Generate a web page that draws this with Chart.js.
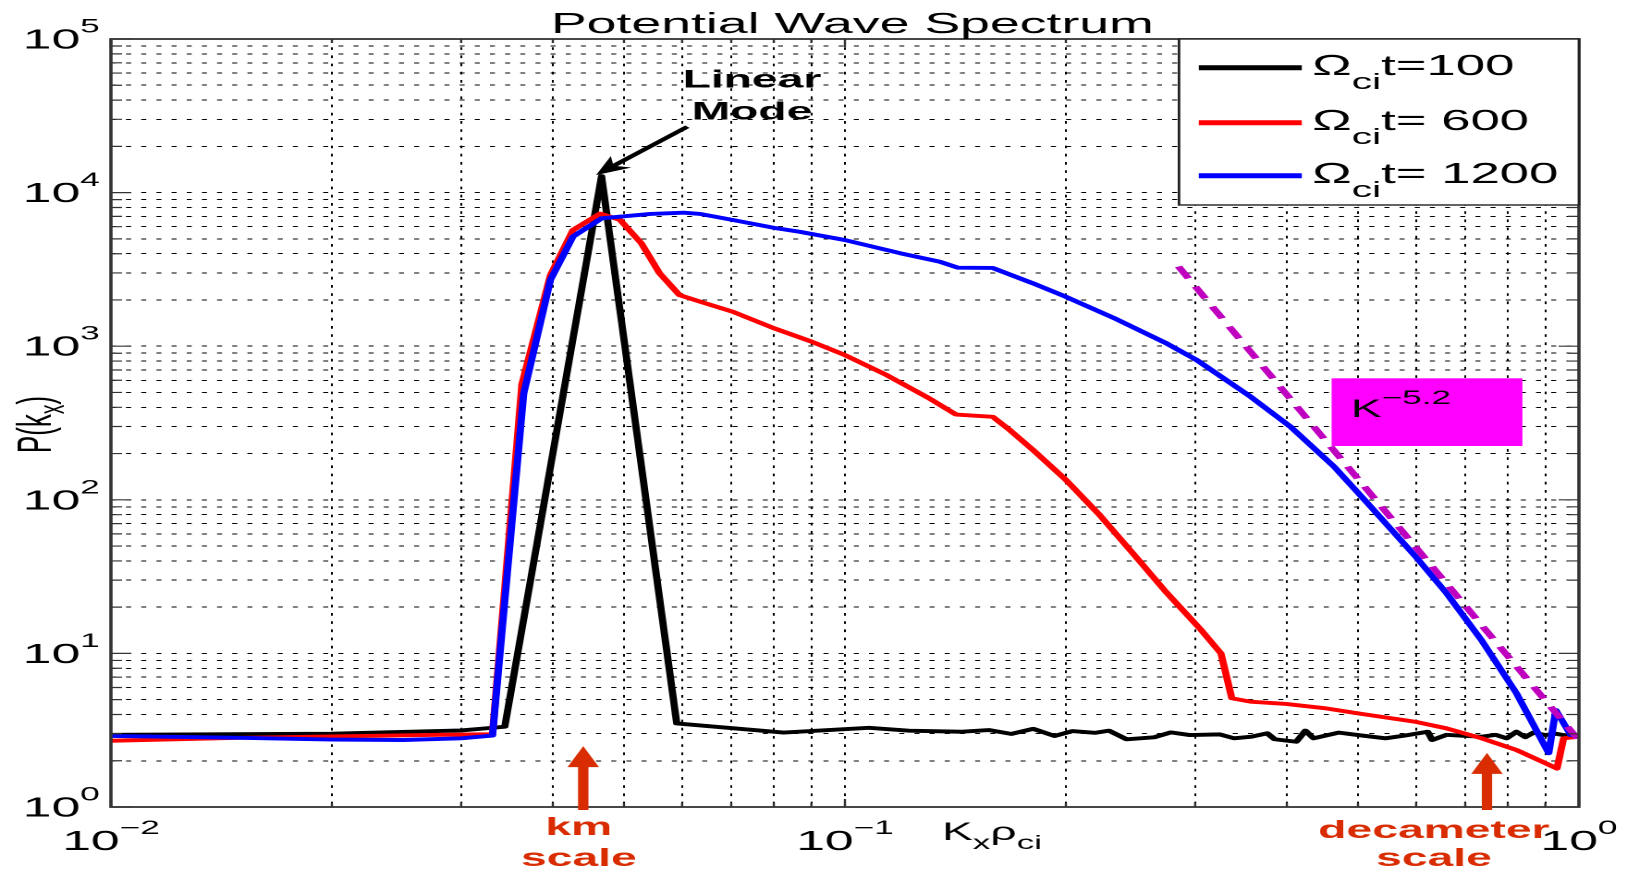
<!DOCTYPE html>
<html>
<head>
<meta charset="utf-8">
<script src="https://cdn.jsdelivr.net/npm/chart.js@4.4.1/dist/chart.umd.min.js"></script>
<style>
  html, body { margin: 0; padding: 0; background: #fff; overflow: hidden; width: 1627px; height: 871px; }
  #wrap { position: absolute; left: 0; top: 0; width: 880px; height: 871px; transform-origin: 0 0; transform: scaleX(1.848864); }
  canvas { display: block; }
</style>
</head>
<body>
<div id="wrap"><canvas id="c" width="880" height="871"></canvas></div>
<script>
const FONT = "'Liberation Sans', Arial, Helvetica, sans-serif";

// ---- data (K_x rho_ci , P(k_x)) ----
const kBlack = [0.010, 0.020, 0.030, 0.0344, 0.0466, 0.0590, 0.0825, 0.0950, 0.1078, 0.1222, 0.1444, 0.157, 0.1685, 0.1805, 0.193, 0.204, 0.219, 0.229, 0.2419, 0.2636, 0.278, 0.295, 0.324, 0.339, 0.358, 0.376, 0.385, 0.412, 0.424, 0.435, 0.471, 0.500, 0.545, 0.580, 0.622, 0.631, 0.660, 0.700, 0.737, 0.770, 0.797, 0.822, 0.845, 0.867, 0.900, 0.930, 0.952, 1.0];
const pBlack = [2.95, 3.00, 3.15, 3.33, 12800, 3.50, 3.05, 3.17, 3.28, 3.14, 3.09, 3.17, 2.99, 3.23, 2.90, 3.12, 3.04, 3.14, 2.76, 2.84, 3.06, 2.94, 2.97, 2.80, 2.87, 3.02, 2.76, 2.66, 3.14, 2.80, 3.05, 2.94, 2.80, 2.92, 3.09, 2.73, 2.95, 2.90, 2.87, 2.95, 2.80, 3.09, 2.85, 3.05, 2.94, 3.00, 2.94, 2.87];

const kRed = [0.010, 0.015, 0.020, 0.028, 0.0331, 0.0363, 0.0397, 0.0426, 0.0464, 0.0494, 0.0528, 0.0559, 0.0595, 0.0635, 0.0703, 0.0800, 0.0900, 0.0999, 0.1135, 0.130, 0.1417, 0.159, 0.1672, 0.1802, 0.1999, 0.2221, 0.2466, 0.274, 0.3045, 0.3253, 0.3366, 0.357, 0.399, 0.450, 0.500, 0.598, 0.660, 0.737, 0.797, 0.822, 0.900, 0.9335, 0.953, 1.0];
const pRed = [2.70, 2.82, 2.88, 2.95, 2.98, 565, 2900, 5700, 7300, 6635, 4675, 2985, 2154, 1950, 1678, 1310, 1072, 877, 655, 460, 359, 347, 288, 212, 135, 80, 45, 25, 14.5, 10.0, 5.1, 4.85, 4.69, 4.40, 4.07, 3.59, 3.25, 2.80, 2.47, 2.35, 1.93, 1.78, 2.80, 2.87];

const kBlue = [0.010, 0.015, 0.020, 0.025, 0.030, 0.0331, 0.0365, 0.0397, 0.0426, 0.0466, 0.0543, 0.0603, 0.0635, 0.0703, 0.0807, 0.0867, 0.0999, 0.119, 0.1346, 0.1425, 0.159, 0.1802, 0.1999, 0.2343, 0.274, 0.3014, 0.357, 0.4046, 0.464, 0.5153, 0.5983, 0.6603, 0.7365, 0.822, 0.9095, 0.930, 0.9745, 1.0];
const pBlue = [2.90, 2.82, 2.75, 2.73, 2.80, 2.92, 490, 2700, 5165, 6800, 7260, 7400, 7260, 6635, 5857, 5560, 4915, 4027, 3548, 3245, 3230, 2570, 2100, 1500, 1045, 813, 469, 299, 164, 95, 43, 24.6, 12.2, 5.5, 2.24, 4.28, 2.94, 2.90];

const kFit = [0.2847, 1.0];
const pFit = [3300, 2.72];

const seriesNames = ['t=100', 't= 600', 't= 1200'];
const seriesColors = ['#000000', '#ff0000', '#0000ff'];
const fitColor = '#bf00bf';

// ---- ticks ----
const xMajorTicks = [0.01, 0.1, 1];
const xTickExponents = ['\u22122', '\u22121', '0'];
const yMajorTicks = [1, 10, 100, 1000, 10000, 100000];
const yTickExponents = ['0', '1', '2', '3', '4', '5'];
const minorSteps = [2, 3, 4, 5, 6, 7, 8, 9];

// ---- annotation anchors (data coordinates) ----
const annot = {
  linearK: 0.0747, linearP: [48480, 30000],
  arrowFrom: [0.061, 26850], arrowTo: [0.0458, 13000],
  kmArrowK: 0.0440, kmTipP: 2.49, kmTextK: 0.0434,
  decaArrowK: 0.7494, decaTipP: 2.25, decaTextK: 0.6345,
  boxK: [0.4603, 0.8375], boxP: [224, 618], boxTextK: 0.489, boxTextP: 347,
  xTitleK: 0.1586
};
const RED = '#d92c00';

function gridTicks(majors) {
  const out = [];
  majors.forEach((m, i) => {
    out.push({ value: m, major: true });
    if (i < majors.length - 1) minorSteps.forEach(s => out.push({ value: +(m * s).toPrecision(6), major: false }));
  });
  return out;
}

function drawRuns(ctx, runs, x, baseline) {
  let cx = x;
  runs.forEach(r => {
    ctx.font = (r.bold ? 'bold ' : '') + r.size + 'px ' + FONT;
    ctx.fillText(r.t, cx, baseline + (r.dy || 0));
    cx += ctx.measureText(r.t).width;
  });
  return cx;
}
function runsWidth(ctx, runs) {
  let w = 0;
  runs.forEach(r => { ctx.font = (r.bold ? 'bold ' : '') + r.size + 'px ' + FONT; w += ctx.measureText(r.t).width; });
  return w;
}
function drawPow(ctx, xAnchor, baseline, exp, align) {
  const runs = [{ t: '10', size: 28 }, { t: exp, size: 19, dy: -16 }];
  const w = runsWidth(ctx, runs);
  const x0 = align === 'right' ? xAnchor - w : xAnchor - w / 2;
  drawRuns(ctx, runs, x0, baseline);
}
function upArrow(ctx, x, yTip, yBase) {
  const headH = 21, headW = 17, shaftW = 5.6;
  ctx.fillStyle = RED;
  ctx.fillRect(x - shaftW / 2, yTip + headH - 1, shaftW, yBase - (yTip + headH - 1));
  ctx.beginPath();
  ctx.moveTo(x, yTip);
  ctx.lineTo(x + headW / 2, yTip + headH);
  ctx.lineTo(x - headW / 2, yTip + headH);
  ctx.closePath();
  ctx.fill();
}

const decor = {
  id: 'decor',
  afterDraw(chart) {
    const { ctx, chartArea: a, scales: { x, y } } = chart;
    ctx.save();
    ctx.textBaseline = 'alphabetic';
    ctx.textAlign = 'left';

    // magenta K^-5.2 box
    const bx0 = x.getPixelForValue(annot.boxK[0]), bx1 = x.getPixelForValue(annot.boxK[1]);
    const by0 = y.getPixelForValue(annot.boxP[1]), by1 = y.getPixelForValue(annot.boxP[0]);
    ctx.fillStyle = '#ff00ff';
    ctx.fillRect(bx0, by0, bx1 - bx0, by1 - by0);
    ctx.fillStyle = '#000';
    drawRuns(ctx, [{ t: 'K', size: 25 }, { t: '\u22125.2', size: 19, dy: -13 }],
      x.getPixelForValue(annot.boxTextK), y.getPixelForValue(annot.boxTextP));

    // axes box
    ctx.strokeStyle = '#333';
    ctx.lineWidth = 1.8;
    ctx.strokeRect(a.left, a.top, a.right - a.left, a.bottom - a.top);

    // inward tick marks
    ctx.lineWidth = 1.2;
    y.ticks.forEach(t => {
      const py = y.getPixelForValue(t.value);
      const len = t.major ? 11 : 6;
      ctx.beginPath();
      ctx.moveTo(a.left, py); ctx.lineTo(a.left + len, py);
      ctx.moveTo(a.right, py); ctx.lineTo(a.right - len, py);
      ctx.stroke();
    });
    x.ticks.forEach(t => {
      const px = x.getPixelForValue(t.value);
      const len = t.major ? 8 : 4;
      ctx.beginPath();
      ctx.moveTo(px, a.bottom); ctx.lineTo(px, a.bottom - len);
      ctx.moveTo(px, a.top); ctx.lineTo(px, a.top + len);
      ctx.stroke();
    });

    // tick labels
    ctx.fillStyle = '#000';
    yMajorTicks.forEach((v, i) => drawPow(ctx, a.left - 6, y.getPixelForValue(v) + 9.5, yTickExponents[i], 'right'));
    xMajorTicks.forEach((v, i) => drawPow(ctx, x.getPixelForValue(v), a.bottom + 43, xTickExponents[i], 'center'));

    // title
    ctx.font = '29px ' + FONT;
    ctx.textAlign = 'center';
    ctx.fillText('Potential Wave Spectrum', (a.left + a.right) / 2 + 4, 33);
    ctx.textAlign = 'left';

    // x title
    const xr = [{ t: 'K', size: 25 }, { t: 'x', size: 19, dy: 9 }, { t: '\u03C1', size: 25 }, { t: 'ci', size: 19, dy: 9 }];
    drawRuns(ctx, xr, x.getPixelForValue(annot.xTitleK) - runsWidth(ctx, xr) / 2, a.bottom + 33);

    // y title (rotated)
    const yr = [{ t: 'P(k', size: 26 }, { t: 'x', size: 19, dy: 7 }, { t: ')', size: 26 }];
    ctx.save();
    ctx.translate(27.5, (a.top + a.bottom) / 2 + 1.5);
    ctx.rotate(-Math.PI / 2);
    drawRuns(ctx, yr, -runsWidth(ctx, yr) / 2, 0);
    ctx.restore();

    // Linear Mode label + arrow
    ctx.fillStyle = '#000';
    ctx.textAlign = 'center';
    ctx.font = 'bold 25px ' + FONT;
    const lx = x.getPixelForValue(annot.linearK);
    ctx.fillText('Linear', lx, y.getPixelForValue(annot.linearP[0]));
    ctx.fillText('Mode', lx, y.getPixelForValue(annot.linearP[1]));
    const ax1 = x.getPixelForValue(annot.arrowFrom[0]), ay1 = y.getPixelForValue(annot.arrowFrom[1]);
    const ax2 = x.getPixelForValue(annot.arrowTo[0]), ay2 = y.getPixelForValue(annot.arrowTo[1]);
    const ang = Math.atan2(ay2 - ay1, ax2 - ax1);
    const hl = 19, hw = 16;
    const hbx = ax2 - hl * Math.cos(ang), hby = ay2 - hl * Math.sin(ang);
    ctx.strokeStyle = '#000'; ctx.lineWidth = 3.4;
    ctx.beginPath(); ctx.moveTo(ax1, ay1); ctx.lineTo(ax2 - hl * 0.6 * Math.cos(ang), ay2 - hl * 0.6 * Math.sin(ang)); ctx.stroke();
    ctx.beginPath();
    ctx.moveTo(ax2, ay2);
    ctx.lineTo(hbx + hw / 2 * Math.sin(ang), hby - hw / 2 * Math.cos(ang));
    ctx.lineTo(ax2 - hl * 0.7 * Math.cos(ang), ay2 - hl * 0.7 * Math.sin(ang));
    ctx.lineTo(hbx - hw / 2 * Math.sin(ang), hby + hw / 2 * Math.cos(ang));
    ctx.closePath(); ctx.fill();

    // km / decameter scale arrows and labels
    upArrow(ctx, x.getPixelForValue(annot.kmArrowK), y.getPixelForValue(annot.kmTipP), a.bottom + 3);
    upArrow(ctx, x.getPixelForValue(annot.decaArrowK), y.getPixelForValue(annot.decaTipP), a.bottom + 3);
    ctx.fillStyle = RED;
    ctx.font = 'bold 25px ' + FONT;
    const kmx = x.getPixelForValue(annot.kmTextK), dx = x.getPixelForValue(annot.decaTextK);
    ctx.fillText('km', kmx, a.bottom + 28);
    ctx.fillText('scale', kmx, a.bottom + 59);
    ctx.fillText('decameter', dx, a.bottom + 31);
    ctx.fillText('scale', dx, a.bottom + 59);
    ctx.textAlign = 'left';

    // legend
    const lgL = a.right - 216.3, lgT = a.top, lgB = a.top + 166;
    ctx.fillStyle = '#fff';
    ctx.fillRect(lgL, lgT, a.right - lgL, lgB - lgT);
    ctx.strokeStyle = '#222'; ctx.lineWidth = 1.4;
    ctx.strokeRect(lgL, lgT, a.right - lgL, lgB - lgT);
    const rows = [28.7, 83.7, 136.7];
    seriesNames.forEach((name, i) => {
      const ry = a.top + rows[i];
      ctx.strokeStyle = seriesColors[i]; ctx.lineWidth = 5;
      ctx.beginPath(); ctx.moveTo(a.right - 205.6, ry); ctx.lineTo(a.right - 149.9, ry); ctx.stroke();
      ctx.fillStyle = '#000';
      drawRuns(ctx, [{ t: '\u03A9', size: 28.5 }, { t: 'ci', size: 22, dy: 14 }, { t: name, size: 28.5 }], a.right - 144.2, ry + 7.5);
    });
    ctx.restore();
  }
};

const pts = (ks, ps) => ks.map((k, i) => ({ x: k, y: ps[i] }));
const lineDs = (label, ks, ps, color, order) => ({
  label, data: pts(ks, ps), borderColor: color, backgroundColor: color,
  borderWidth: 3.9, pointRadius: 0, showLine: true, tension: 0, fill: false, order,
  borderJoinStyle: 'round', borderCapStyle: 'round'
});

const axisCommon = {
  type: 'logarithmic',
  ticks: { display: false, autoSkip: false, callback: () => '' },
  grid: { color: '#000', lineWidth: 1, drawTicks: false, tickLength: 0 },
  border: { display: false, dash: [2.7, 5.5] }
};

new Chart(document.getElementById('c'), {
  type: 'scatter',
  data: {
    datasets: [
      lineDs(seriesNames[0], kBlack, pBlack, seriesColors[0], 3),
      lineDs(seriesNames[1], kRed, pRed, seriesColors[1], 2),
      lineDs(seriesNames[2], kBlue, pBlue, seriesColors[2], 1),
      { label: 'K^-5.2', data: pts(kFit, pFit), borderColor: fitColor, backgroundColor: fitColor,
        borderWidth: 4.2, borderDash: [13, 9], pointRadius: 0, showLine: true, tension: 0, fill: false, order: 0 }
    ]
  },
  options: {
    responsive: false,
    animation: false,
    devicePixelRatio: 2,
    events: [],
    layout: { padding: { left: 0, top: 39, right: 26, bottom: 0 } },
    plugins: { legend: { display: false }, title: { display: false }, tooltip: { enabled: false } },
    scales: {
      x: Object.assign({}, axisCommon, {
        min: 0.01, max: 1, position: 'bottom',
        afterBuildTicks: s => { s.ticks = gridTicks(xMajorTicks); },
        afterFit: s => { s.height = 64; }
      }),
      y: Object.assign({}, axisCommon, {
        min: 1, max: 100000, position: 'left',
        afterBuildTicks: s => { s.ticks = gridTicks(yMajorTicks); },
        afterFit: s => { s.width = 60; }
      })
    }
  },
  plugins: [decor]
});
</script>
</body>
</html>
